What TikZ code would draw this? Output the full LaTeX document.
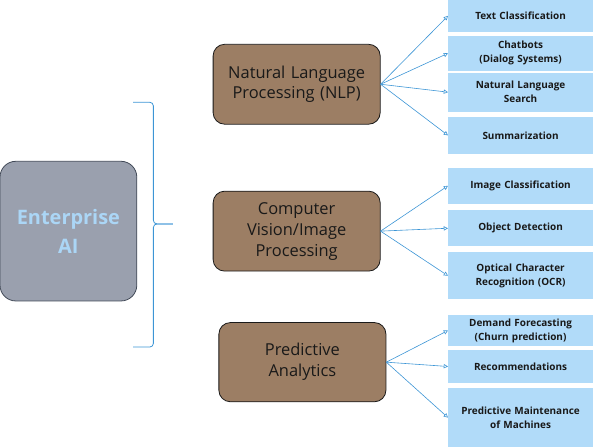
\documentclass[tikz,border=0pt]{standalone}
\usepackage{fontspec}
\setmainfont{Open Sans}
\usepackage{tikz}
\usetikzlibrary{arrows.meta}
\definecolor{aifill}{RGB}{154,160,174}
\definecolor{aidraw}{RGB}{65,73,87}
\definecolor{aitext}{RGB}{171,214,246}
\definecolor{branchfill}{RGB}{156,126,100}
\definecolor{branchdraw}{RGB}{26,26,26}
\definecolor{darktext}{RGB}{25,25,25}
\definecolor{usefill}{RGB}{177,219,249}
\definecolor{linkblue}{RGB}{60,149,213}
\tikzset{>={Triangle[open,width=1.5mm,length=1.5mm]}}
\tikzset{
aibox/.style={shape=rectangle,rounded corners=0.22in,draw=aidraw,line width=0.8pt,fill=aifill,minimum width=1.90in,minimum height=1.94in,text width=1.7in,align=center,font=\fontsize{20}{29}\selectfont\bfseries,text=aitext},
branch/.style={shape=rectangle,rounded corners=0.16in,draw=branchdraw,line width=0.8pt,fill=branchfill,minimum width=2.32in,minimum height=1.11in,text width=2.1in,align=center,font=\fontsize{16.5}{21}\selectfont,text=darktext},
usecase/.style={shape=rectangle,fill=usefill,minimum width=2.01in,text width=1.9in,inner xsep=0pt,align=center,font=\fontsize{10}{14}\selectfont\bfseries,text=darktext},
arrowline/.style={->,draw=linkblue,line width=0.6pt},
bracket/.style={draw=linkblue,line width=0.8pt,rounded corners=0.05in}
}
\begin{document}
\begin{tikzpicture}

\useasboundingbox (0in,0in) rectangle (8.236in,-6.208in);

\path (0.95in,-3.21in) node (ent) [aibox]{Enterprise\\AI};

\draw[bracket] (1.85in,-1.42in) -- (2.13in,-1.42in) -- (2.13in,-3.11in) -- (2.40in,-3.11in);
\draw[bracket] (1.85in,-4.82in) -- (2.13in,-4.82in) -- (2.13in,-3.11in) -- (2.40in,-3.11in);

\path (4.12in,-1.17in) node (nlp) [branch]{Natural Language\\Processing (NLP)};

\path (4.12in,-3.21in) node (cv) [branch]{Computer\\Vision/Image\\Processing};

\path (4.20in,-5.03in) node (pa) [branch,minimum height=1.10in]{Predictive\\Analytics};

\path (7.23in,-0.22in) node (txtcls) [usecase,minimum height=0.44in]{Text Classification};

\path (7.23in,-0.74in) node (chat) [usecase,minimum height=0.49in]{Chatbots\\(Dialog Systems)};

\path (7.23in,-1.28in) node (nlsearch) [usecase,minimum height=0.54in]{Natural Language\\Search};

\path (7.23in,-1.88in) node (summ) [usecase,minimum height=0.51in]{Summarization};

\path (7.23in,-2.58in) node (imgcls) [usecase,minimum height=0.50in]{Image Classification};

\path (7.23in,-3.17in) node (objdet) [usecase,minimum height=0.50in]{Object Detection};

\path (7.23in,-3.83in) node (ocr) [usecase,minimum height=0.65in]{Optical Character\\Recognition (OCR)};

\path (7.23in,-4.59in) node (demand) [usecase,minimum height=0.43in]{Demand Forecasting\\(Churn prediction)};

\path (7.23in,-5.09in) node (recom) [usecase,minimum height=0.46in]{Recommendations};

\path (7.23in,-5.80in) node (maint) [usecase,minimum height=0.82in]{Predictive Maintenance\\of Machines};

\draw[arrowline] (nlp.east) -- (txtcls.west);
\draw[arrowline] (nlp.east) -- (chat.west);
\draw[arrowline] (nlp.east) -- (nlsearch.west);
\draw[arrowline] (nlp.east) -- (summ.west);

\draw[arrowline] (cv.east) -- (imgcls.west);
\draw[arrowline] (cv.east) -- (objdet.west);
\draw[arrowline] (cv.east) -- (ocr.west);

\draw[arrowline] (pa.east) -- (demand.west);
\draw[arrowline] (pa.east) -- (recom.west);
\draw[arrowline] (pa.east) -- (maint.west);

\end{tikzpicture}
\end{document}
